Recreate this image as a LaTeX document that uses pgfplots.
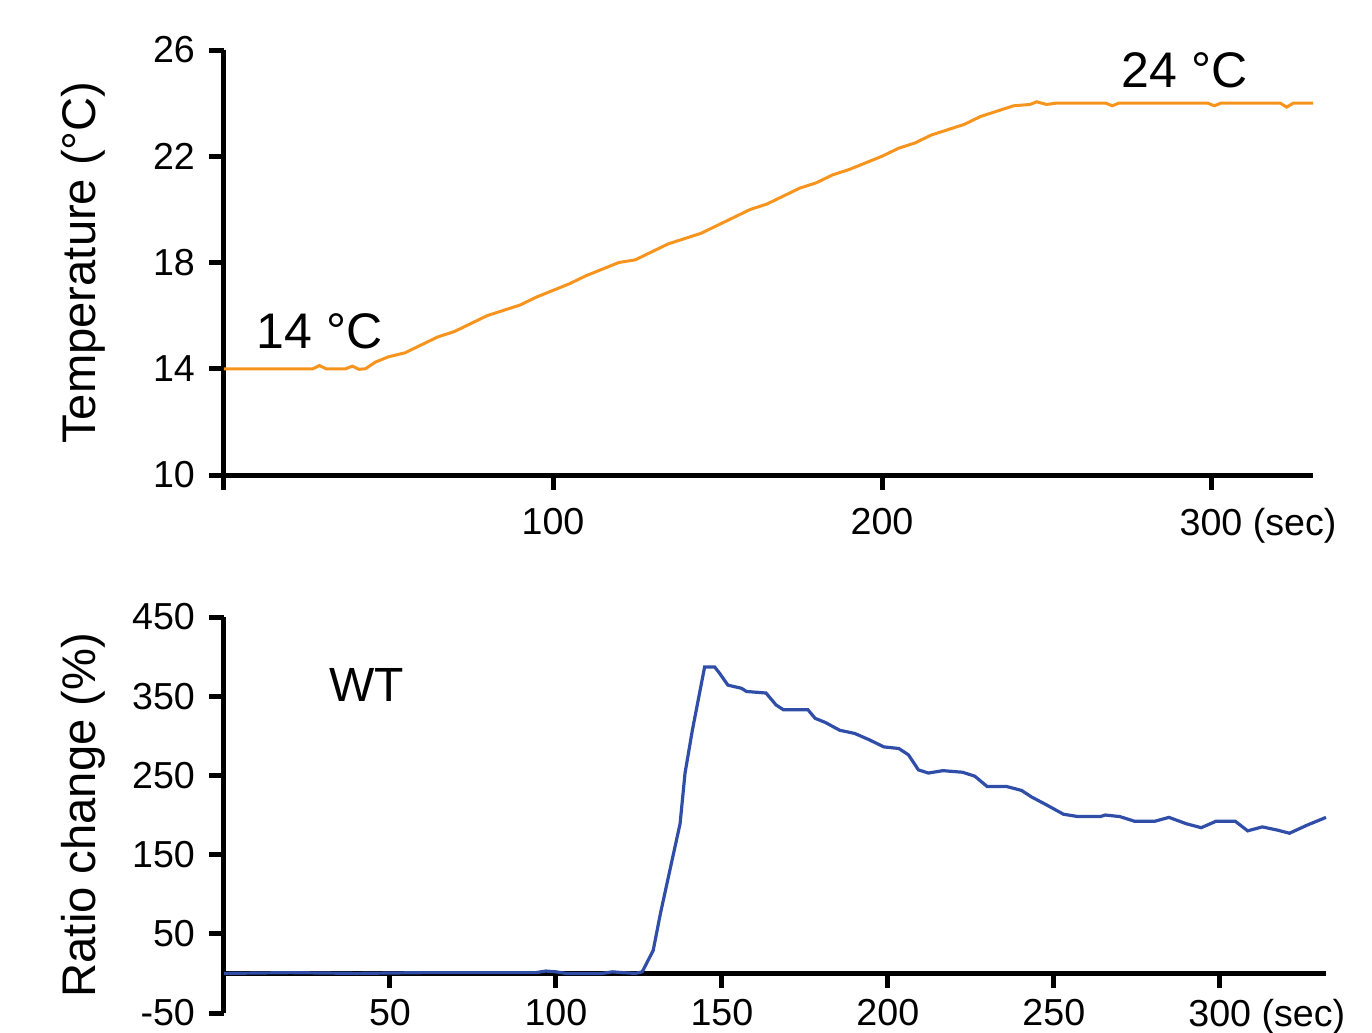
\documentclass[border=0pt]{standalone}
\usepackage{fontspec}
\setmainfont{Liberation Sans}
\usepackage{pgfplots}
\pgfplotsset{compat=1.18}

\definecolor{tempor}{RGB}{247,148,29}
\definecolor{ratioblue}{RGB}{48,78,168}

\pgfplotsset{
  panel/.style={
    scale only axis,
    axis line style={line width=1.25pt},
    tick style={line width=1.25pt, black},
    major tick length=3.75pt,
    /pgf/number format/assume math mode=true,
    tick label style={font=\fontsize{9.4}{11}\selectfont},
    every axis y label/.style={at={(axis description cs:0,0.5)}, xshift=-35.25pt,
      rotate=90, anchor=center, font=\fontsize{11.8}{13}\selectfont},
    clip=false,
  },
}

\begin{document}
\begin{tikzpicture}
\path[use as bounding box] (0,0) rectangle (343pt,258pt);

% upper panel: temperature ramp
\begin{axis}[panel,
  at={(56pt,139.25pt)}, anchor=south west,
  width=272.25pt, height=106.25pt,
  axis x line*=bottom, axis y line*=left,
  tick align=outside,
  xmin=0, xmax=331, ymin=10, ymax=26,
  xtick={0,100,200,300}, xticklabels={,100,200,{300\rlap{\ (sec)}}},
  xticklabel style={yshift=-1pt},
  ytick={10,14,18,22,26},
  ylabel={Temperature (°C)},
]
\addplot[tempor, line width=0.75pt] coordinates {
(0,14) (27,14) (29,14.12) (31,14) (37,14) (39,14.1) (41,13.98) (43,14)
(46,14.25) (50,14.45) (55,14.6) (60,14.9) (65,15.2) (70,15.4) (75,15.7)
(80,16.0) (85,16.2) (90,16.4) (95,16.7) (100,16.95) (105,17.2) (110,17.5)
(115,17.75) (120,18.0) (125,18.1) (130,18.4) (135,18.7) (140,18.9)
(145,19.1) (150,19.4) (155,19.7) (160,20.0) (165,20.2) (170,20.5)
(175,20.8) (180,21.0) (185,21.3) (190,21.5) (195,21.75) (200,22.0)
(205,22.3) (210,22.5) (215,22.8) (220,23.0) (225,23.2) (230,23.5)
(235,23.7) (240,23.9) (245,23.95) (247,24.05) (250,23.95) (253,24.0)
(268,24.0) (270,23.9) (272,24.0) (299,24.0) (301,23.9) (303,24.0)
(321,24.0) (323,23.85) (325,24.0) (331,24.0)
};
\node[font=\fontsize{12.5}{14}\selectfont] at (axis cs:29,15.4) {14 °C};
\node[font=\fontsize{12.5}{14}\selectfont] at (axis cs:292,25.25) {24 °C};
\end{axis}

% lower panel: ratio change
\begin{axis}[panel,
  at={(56pt,4.75pt)}, anchor=south west,
  width=275.5pt, height=99pt,
  axis x line*=middle, axis y line*=left,
  tick align=outside,
  xmin=0, xmax=332, ymin=-50, ymax=450,
  xtick={50,100,150,200,250,300},
  xticklabels={50,100,150,200,250,{300\rlap{\ (sec)}}},
  xticklabel style={yshift=0.75pt},
  ytick={-50,50,150,250,350,450},
  ylabel={Ratio change (\%)},
]
\addplot[ratioblue, line width=0.8pt] coordinates {
(0,0) (20,1) (40,0) (60,1) (94,1) (97,3) (100,2) (103,0) (114,0)
(117,2) (120,1) (124,0) (126,2) (129.3,29) (131.5,76) (135.2,147)
(137.4,189) (138.9,253) (141.1,307) (144.8,387) (147.8,387) (149.3,379)
(151.8,364) (155.9,360) (157.4,356) (163.3,354) (166.3,339) (168.5,333)
(175.9,333) (178.1,322) (181.1,317) (185.5,307) (190,303) (194.4,295)
(198.8,286) (203.3,284) (206.2,276) (209.2,257) (212.2,253) (216.6,256)
(222.5,254) (226.2,249) (229.9,236) (235.8,236) (240.3,231) (243.2,223)
(247.7,213) (252.9,201) (257.3,198) (264,198) (265.5,200) (269.9,198)
(274.4,192) (280.3,192) (284.7,197) (289.9,189) (294.4,184) (298.8,192)
(304.7,192) (308.4,180) (312.8,185) (317.3,181) (321,177) (326.2,187)
(332,197)
};
\node[font=\fontsize{12}{14}\selectfont] at (axis cs:43,364) {WT};
\end{axis}
\end{tikzpicture}
\end{document}
